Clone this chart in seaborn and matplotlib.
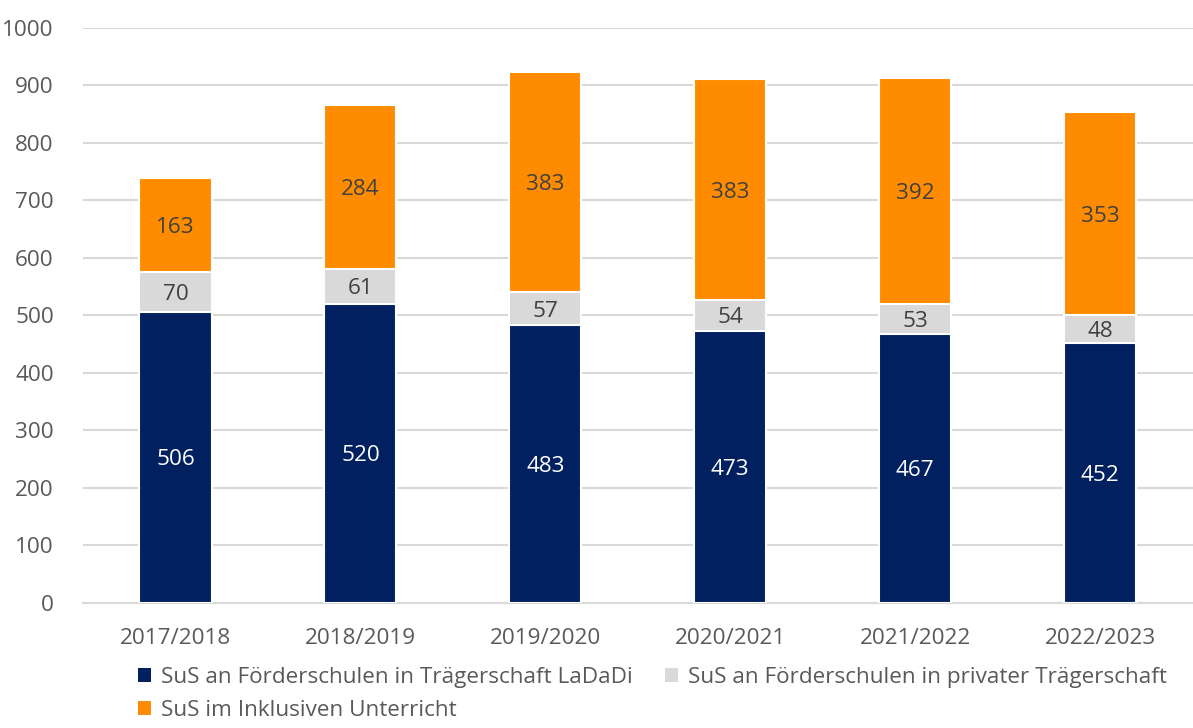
import pandas as pd
import numpy as np
import matplotlib
matplotlib.use("Agg")
import matplotlib.pyplot as plt
from matplotlib.patches import Patch
import seaborn as sns

# data
years = ["2017/2018", "2018/2019", "2019/2020", "2020/2021", "2021/2022", "2022/2023"]
ladadi = [506, 520, 483, 473, 467, 452]
privat = [70, 61, 57, 54, 53, 48]
inklusiv = [163, 284, 383, 383, 392, 353]
series_names = ["SuS an Förderschulen in Trägerschaft LaDaDi",
                "SuS an Förderschulen in privater Trägerschaft",
                "SuS im Inklusiven Unterricht"]
colors = ["#002060", "#D9D9D9", "#FF8C00"]

sns.set_style("white")
plt.rcParams["font.family"] = ["Open Sans", "DejaVu Sans"]
fs = 16.2

df = pd.DataFrame({"year": years, "ladadi": ladadi, "privat": privat, "inklusiv": inklusiv})
df["cum1"] = df["ladadi"]
df["cum2"] = df["ladadi"] + df["privat"]
df["cum3"] = df["cum2"] + df["inklusiv"]

fig = plt.figure(figsize=(11.93, 7.28), dpi=100)
ax = fig.add_axes([0.0696, 0.172, 0.93, 0.790])

# stacked look: draw the cumulative totals from top layer down
for col, c in zip(["cum3", "cum2", "cum1"], colors[::-1]):
    sns.barplot(data=df, x="year", y=col, color=c, width=0.39, ax=ax,
                edgecolor="white", linewidth=1.5, saturation=1, zorder=3)

# segment labels
txt = "#404040"
for i in range(len(years)):
    ax.text(i, ladadi[i] / 2, str(ladadi[i]), ha="center", va="center_baseline",
            color="white", fontsize=fs, zorder=5)
    ax.text(i, ladadi[i] + privat[i] / 2, str(privat[i]), ha="center", va="center_baseline",
            color=txt, fontsize=fs, zorder=5)
    ax.text(i, df["cum2"][i] + inklusiv[i] / 2, str(inklusiv[i]), ha="center",
            va="center_baseline", color=txt, fontsize=fs, zorder=5)

ax.set_ylim(0, 1000)
ax.set_xlim(-0.5, len(years) - 0.5)
ax.set_yticks(np.arange(0, 1001, 100))
ax.yaxis.grid(True, color="#D9D9D9", linewidth=1.5, zorder=0)
ax.set_axisbelow(True)
for s in ["top", "right", "left"]:
    ax.spines[s].set_visible(False)
ax.spines["bottom"].set_color("#D9D9D9")
ax.spines["bottom"].set_linewidth(1.5)
ax.set_xlabel("")
ax.set_ylabel("")
ax.tick_params(axis="both", length=0, labelsize=fs, labelcolor="#595959")
ax.tick_params(axis="x", pad=18)
ax.tick_params(axis="y", pad=21)

handles = [Patch(facecolor=c, edgecolor="none") for c in colors]
order = [0, 2, 1]
fig.legend([handles[k] for k in order], [series_names[k] for k in order],
           loc="upper left", bbox_to_anchor=(0.116, 0.084), ncol=2, frameon=False,
           fontsize=fs, handlelength=0.55, handleheight=0.55, handletextpad=0.45,
           columnspacing=1.45, labelspacing=0.55, labelcolor="#595959",
           borderaxespad=0, borderpad=0)

fig.savefig("out.png", dpi=100)
